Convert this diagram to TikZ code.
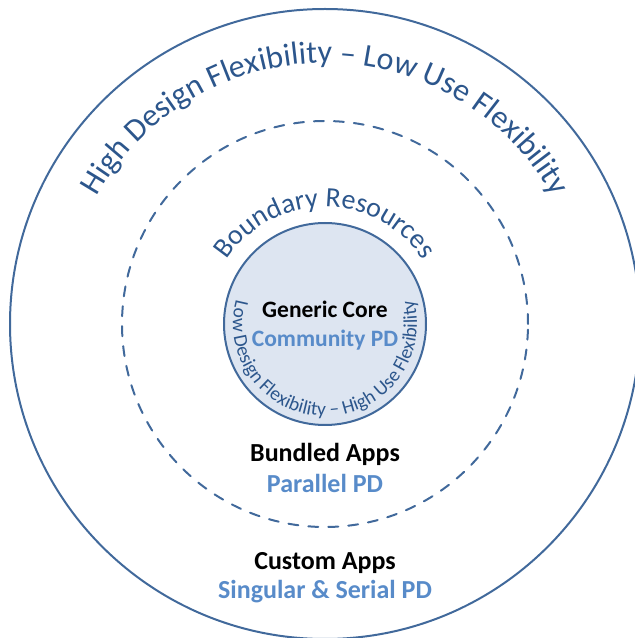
\documentclass[tikz,border=0pt]{standalone}
\usepackage{fontspec}
\setmainfont{Carlito}
\usetikzlibrary{decorations.text}
\definecolor{ringblue}{RGB}{65,105,155}
\definecolor{arcblue}{RGB}{44,86,140}
\definecolor{corefill}{RGB}{221,229,241}
\definecolor{pdblue}{RGB}{88,139,201}
\newcommand\ringfont{\fontsize{32}{38}\selectfont}
\newcommand\resfont{\fontsize{28}{34}\selectfont}
\newcommand\corearcfont{\fontsize{19.5}{24}\selectfont}

\begin{document}
\begin{tikzpicture}[x=1pt,y=1pt,line cap=round,line join=round,
  ring/.style={draw=ringblue,line width=2pt},
  apptext/.style={font=\bfseries\fontsize{26}{31}\selectfont,anchor=base},
  coretext/.style={font=\bfseries\fontsize{23.5}{28}\selectfont,anchor=base}]
  \useasboundingbox (0,0) rectangle (635,638);
  \coordinate (ctr) at (325,314);
  \draw[ring] (ctr) circle[radius=315pt];
  \draw[ring,dash pattern=on 10pt off 10pt] (ctr) circle[radius=203pt];
  \draw[ring,fill=corefill] (ctr) circle[radius=101pt];
  \path[decorate,decoration={text along path,text align=center,text color=arcblue,
    text={|\ringfont|High Design Flexibility – Low Use Flexibility}}]
    ([shift={(160:261pt)}]ctr) arc[start angle=160,end angle=20,radius=261pt];
  \path[decorate,decoration={text along path,text align=center,text color=arcblue,
    text={|\resfont|Boundary Resources}}]
    ([shift={(160:117pt)}]ctr) arc[start angle=160,end angle=20,radius=117pt];
  \path[decorate,decoration={text along path,text align=center,text color=arcblue,
    text={|\corearcfont|Low Design Flexibility – High Use Flexibility}}]
    ([shift={(150:92pt)}]ctr) arc[start angle=150,end angle=390,radius=92pt];
  \node[coretext] (core) at (325,320) {Generic Core};
  \node[coretext,text=pdblue] (corepd) at (325,291) {Community PD};
  \node[apptext] (bundled) at (325,176) {Bundled Apps};
  \node[apptext,text=pdblue] (bundledpd) at (325,145) {Parallel PD};
  \node[apptext] (custom) at (325,68) {Custom Apps};
  \node[apptext,text=pdblue] (custompd) at (325,39) {Singular \& Serial PD};
\end{tikzpicture}
\end{document}
